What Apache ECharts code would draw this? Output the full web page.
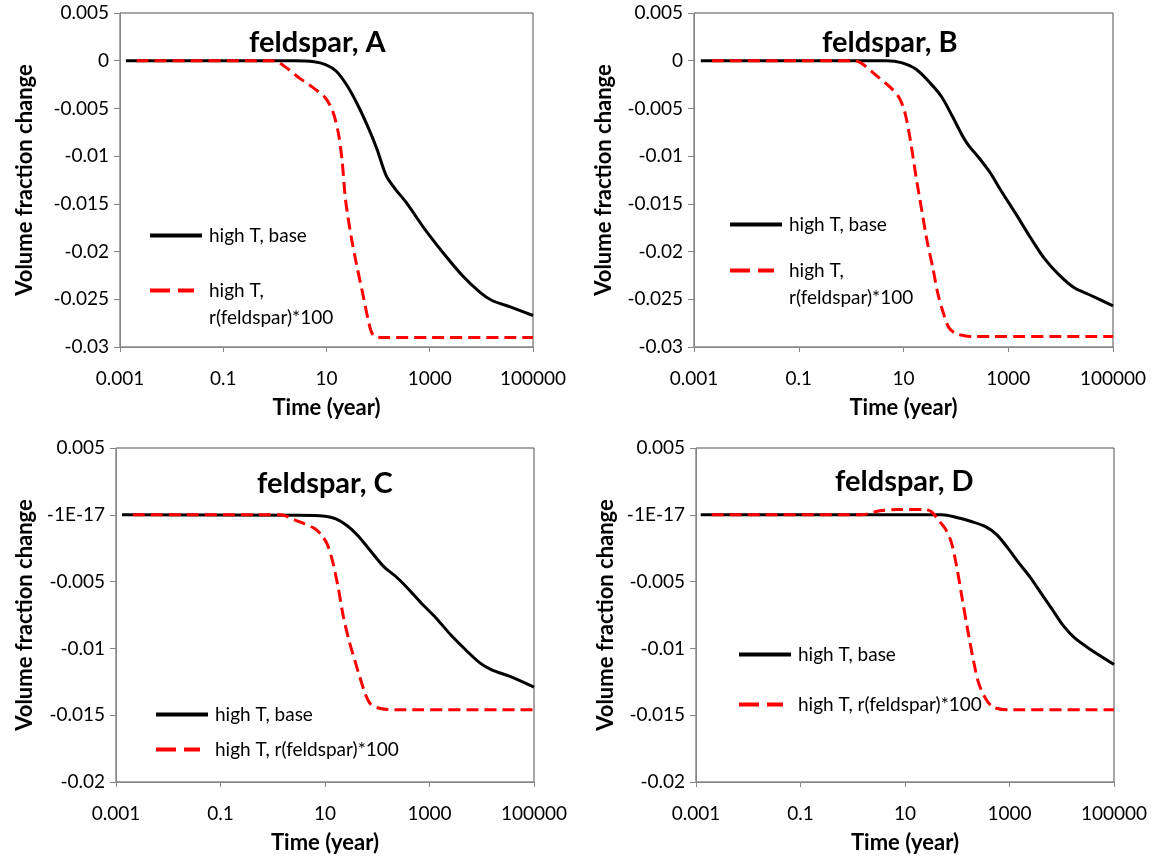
<!DOCTYPE html>
<html><head><meta charset="utf-8">
<script src="https://cdn.jsdelivr.net/npm/echarts@6/dist/echarts.min.js"></script>
<style>html,body{margin:0;padding:0;background:#fff}#c{width:1151px;height:860px}</style>
</head><body><div id="c"></div><script>
// ---------- data ----------
const panelTitles = ['feldspar, A', 'feldspar, B', 'feldspar, C', 'feldspar, D'];
const seriesNames = ['high T, base', 'high T, r(feldspar)*100'];

const xTickValues = [0.001, 0.1, 10, 1000, 100000];
const xTickLabels = ['0.001', '0.1', '10', '1000', '100000'];
const yTicksAB = [0.005, 0, -0.005, -0.01, -0.015, -0.02, -0.025, -0.03];
const yTickLabelsAB = ['0.005', '0', '-0.005', '-0.01', '-0.015', '-0.02', '-0.025', '-0.03'];
const yTicksCD = [0.005, 0, -0.005, -0.01, -0.015, -0.02];
const yTickLabelsCD = ['0.005', '-1E-17', '-0.005', '-0.01', '-0.015', '-0.02'];

// Panel A
const timeA_base = [0.0013, 2.5, 5.75, 9.55, 15.5, 25.7, 41.7, 69.2, 95.5, 145, 219, 355, 813, 1860, 4270, 9550, 15800, 36300, 100000];
const volA_base  = [0, 0, -0.0001, -0.0004, -0.0011, -0.0027, -0.0048, -0.0074, -0.0093, -0.0121, -0.0135, -0.0149, -0.0177, -0.0202, -0.0225, -0.0243, -0.0251, -0.0258, -0.0267];
const timeA_r100 = [0.0021, 0.93, 1.55, 2.95, 5.75, 9.55, 13.2, 17, 20, 23.4, 30.2, 38, 49, 69, 81.3, 112, 1000, 100000];
const volA_r100  = [0, 0, -0.0006, -0.0018, -0.0029, -0.0039, -0.0053, -0.0076, -0.0104, -0.0146, -0.0185, -0.0213, -0.0241, -0.0279, -0.0288, -0.029, -0.029, -0.029];

// Panel B
const timeB_base = [0.00135, 4.8, 9.1, 17.4, 33.1, 53.7, 87.1, 141, 182, 269, 447, 724, 1380, 2630, 5010, 9550, 18200, 34700, 100000];
const volB_base  = [0, 0, -0.0002, -0.0009, -0.0024, -0.0038, -0.0059, -0.0081, -0.009, -0.0101, -0.0117, -0.0136, -0.016, -0.0185, -0.0208, -0.0225, -0.0238, -0.0245, -0.0257];
const timeB_r100 = [0.0022, 1.1, 1.51, 2.95, 5.62, 8.32, 10.7, 13.5, 17.4, 21.9, 28.2, 36.3, 45.7, 58.9, 74.1, 102, 195, 100000];
const volB_r100  = [0, 0, -0.0002, -0.0015, -0.0028, -0.0039, -0.0055, -0.0083, -0.0122, -0.0154, -0.0189, -0.0217, -0.0245, -0.0266, -0.028, -0.0286, -0.0289, -0.0289];

// Panel C
const timeC_base = [0.0013, 3, 10, 16.2, 26.3, 43.7, 70.8, 135, 224, 363, 692, 1320, 2570, 4900, 9330, 15500, 34700, 100000];
const volC_base  = [0, -0.00003, -0.0001, -0.0003, -0.0008, -0.0016, -0.0026, -0.0039, -0.0046, -0.0054, -0.0066, -0.0077, -0.009, -0.0101, -0.0111, -0.0116, -0.0121, -0.0129];
const timeC_r100 = [0.0021, 1.41, 2.69, 6.17, 8.51, 11, 13.8, 17.8, 22.4, 28.8, 37.2, 46.8, 60.3, 75.9, 115, 224, 100000];
const volC_r100  = [0, 0, -0.0004, -0.001, -0.0015, -0.0022, -0.0034, -0.0054, -0.0076, -0.0094, -0.0109, -0.0122, -0.0135, -0.0142, -0.0145, -0.0146, -0.0146];

// Panel D
const timeD_base = [0.00123, 51.3, 97.7, 186, 355, 575, 933, 1510, 2510, 4070, 6610, 10700, 17400, 33100, 100000];
const volD_base  = [0, 0, -0.0002, -0.0005, -0.0009, -0.0015, -0.0025, -0.0036, -0.0047, -0.0059, -0.0071, -0.0083, -0.0092, -0.01, -0.0112];
const timeD_r100 = [0.002, 1.45, 3.31, 7.41, 22.9, 31.6, 43.7, 60.3, 77.6, 97.7, 126, 158, 204, 257, 355, 490, 933, 100000];
const volD_r100  = [0, 0, 0.0003, 0.0004, 0.0004, 0.00025, -0.0004, -0.0011, -0.0021, -0.0039, -0.0064, -0.0086, -0.0109, -0.0126, -0.0138, -0.0144, -0.0146, -0.0146];

// ---------- build ----------
const pairs = (t, v) => t.map((x, i) => [x, v[i]]);
const panelData = [
  [pairs(timeA_base, volA_base), pairs(timeA_r100, volA_r100)],
  [pairs(timeB_base, volB_base), pairs(timeB_r100, volB_r100)],
  [pairs(timeC_base, volC_base), pairs(timeC_r100, volC_r100)],
  [pairs(timeD_base, volD_base), pairs(timeD_r100, volD_r100)]
];

const FONT = 'Lato';
const grids = [
  {left: 120, top: 13, width: 413, height: 334},
  {left: 694, top: 13, width: 419, height: 334},
  {left: 116, top: 448, width: 418, height: 334},
  {left: 696, top: 448, width: 418, height: 334}
];
const yNameGap = [84, 79, 80, 79];
const titlePos = [[249, 28], [822, 28], [257, 469], [835, 467]];
// legend: [iconLeft, solidCenterY, dashedCenterY, twoLine]
const legendPos = [
  [148, 238, 291, true],
  [728, 227, 271, true],
  [154, 717, 752, false],
  [737, 657, 707, false]
];

function xFmt(v) {
  for (let i = 0; i < xTickValues.length; i++) {
    if (Math.abs(Math.log10(v) - Math.log10(xTickValues[i])) < 0.01) return xTickLabels[i];
  }
  return '';
}
function yFmtFactory(ticks, labels) {
  return function (v) {
    for (let i = 0; i < ticks.length; i++) if (Math.abs(v - ticks[i]) < 1e-9) return labels[i];
    return '';
  };
}

const option = {
  backgroundColor: '#fff',
  animation: false,
  grid: grids.map(g => Object.assign({show: true, borderColor: '#505050', borderWidth: 1, containLabel: false}, g)),
  title: panelTitles.map((t, i) => ({
    text: t, left: titlePos[i][0], top: titlePos[i][1], padding: 0,
    textStyle: {fontFamily: FONT, fontWeight: 'bold', fontSize: 29, color: '#000'}
  })),
  xAxis: grids.map((g, i) => ({
    type: 'log', logBase: 10, gridIndex: i, min: 0.001, max: 100000, interval: 2,
    name: 'Time (year)', nameLocation: 'middle', nameGap: 50,
    nameTextStyle: {fontFamily: FONT, fontWeight: 'bold', fontSize: 22, color: '#000'},
    axisLine: {show: true, onZero: false, lineStyle: {color: '#868686', width: 1}},
    axisTick: {show: true, inside: false, length: 5, lineStyle: {color: '#868686'}},
    minorTick: {show: false},
    splitLine: {show: false},
    axisLabel: {fontFamily: FONT, fontSize: 19, color: '#000', margin: 22, formatter: xFmt, showMinLabel: true, showMaxLabel: true}
  })),
  yAxis: grids.map((g, i) => {
    const ab = i < 2;
    return {
      type: 'value', gridIndex: i, min: ab ? -0.03 : -0.02, max: 0.005, interval: 0.005,
      name: 'Volume fraction change', nameLocation: 'middle', nameGap: yNameGap[i],
      nameTextStyle: {fontFamily: FONT, fontWeight: 'bold', fontSize: 22, color: '#000'},
      axisLine: {show: true, onZero: false, lineStyle: {color: '#868686', width: 1}},
      axisTick: {show: true, inside: false, length: 6, lineStyle: {color: '#868686'}},
      splitLine: {show: false},
      axisLabel: {fontFamily: FONT, fontSize: 19, color: '#000', margin: 11,
        formatter: ab ? yFmtFactory(yTicksAB, yTickLabelsAB) : yFmtFactory(yTicksCD, yTickLabelsCD)}
    };
  }),
  legend: [],
  series: []
};

panelData.forEach((pd, i) => {
  option.series.push({
    name: seriesNames[0], type: 'line', xAxisIndex: i, yAxisIndex: i, data: pd[0],
    showSymbol: false, symbol: 'none', smooth: 0.3, z: 2,
    lineStyle: {color: '#000', width: 3, type: 'solid'}, itemStyle: {color: '#000'}
  });
  option.series.push({
    name: seriesNames[1], type: 'line', xAxisIndex: i, yAxisIndex: i, data: pd[1],
    showSymbol: false, symbol: 'none', smooth: 0.3, z: 3,
    lineStyle: {color: '#ff0000', width: 3, type: [12, 6]}, itemStyle: {color: '#ff0000'}
  });
  const lp = legendPos[i];
  const common = {
    left: lp[0], padding: 0, itemHeight: 12, selectedMode: false, itemGap: 0,
    itemStyle: {opacity: 0}
  };
  option.legend.push(Object.assign({}, common, {
    data: [seriesNames[0]], top: lp[1] - 12, itemWidth: 52, lineStyle: {width: 4},
    textStyle: {fontFamily: FONT, fontSize: 19, color: '#000', padding: [0, 0, 0, 2]}
  }));
  const redCommon = Object.assign({}, common, {
    data: [seriesNames[1]], itemWidth: 44, lineStyle: {width: 4, type: [20, 8]}
  });
  if (lp[3]) {
    option.legend.push(Object.assign({}, redCommon, {
      top: lp[2] - 41,
      formatter: () => '\nhigh T,\nr(feldspar)*100',
      textStyle: {fontFamily: FONT, fontSize: 19, color: '#000', lineHeight: 27, padding: [0, 0, 0, 10]}
    }));
  } else {
    option.legend.push(Object.assign({}, redCommon, {
      top: lp[2] - 12,
      textStyle: {fontFamily: FONT, fontSize: 19, color: '#000', padding: [0, 0, 0, 10]}
    }));
  }
});

const chart = echarts.init(document.getElementById('c'), null, {renderer: 'canvas'});
chart.setOption(option);
</script></body></html>
